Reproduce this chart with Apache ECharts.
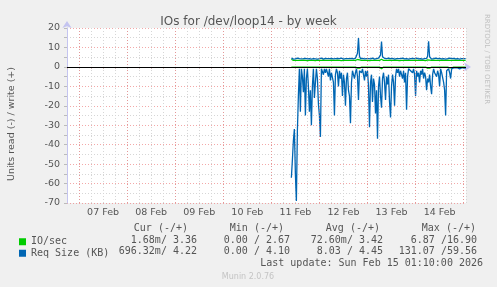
<!DOCTYPE html>
<html>
<head>
<meta charset="utf-8">
<script src="https://cdn.jsdelivr.net/npm/echarts@6/dist/echarts.min.js"></script>
<style>
html,body{margin:0;padding:0;background:#f0f0f0;}
#chart{width:497px;height:287px;}
</style>
</head>
<body>
<div id="chart"></div>
<script>
// ---- data (time in hours since 07 Feb 00:00, half-hour samples) ----
const dayLabels = ['07 Feb','08 Feb','09 Feb','10 Feb','11 Feb','12 Feb','13 Feb','14 Feb'];
const midnights = [0,24,48,72,96,120,144,168,192];
const startHour = 106;
const stepHours = 0.5;

const ioRead = [
 -0.1,-1,-0.1,-0.1,-0.1,-0.1,-0.1,-0.1,-0.1,-0.1,
 -0.1,-0.1,-0.1,-0.1,-0.1,-0.1,-0.1,-0.1,-0.1,-0.1,
 -0.1,-0.1,-0.1,-0.1,-0.1,-0.1,-0.1,-0.1,-0.1,-0.1,
 -0.1,-0.1,-0.1,-0.1,-0.1,-0.1,-0.1,-0.1,-0.1,-0.1,
 -0.1,-0.1,-0.1,-0.1,-0.1,-0.1,-0.1,-0.1,-0.1,-0.1,
 -0.1,-0.1,-0.1,-0.1,-0.1,-0.1,-0.1,-0.1,-0.1,-0.1,
 -0.1,-0.1,-0.1,-0.1,-0.1,-0.1,-0.6,-1,-0.6,-0.1,
 -0.1,-0.1,-0.1,-0.1,-0.1,-0.1,-0.1,-0.1,-0.1,-0.1,
 -0.1,-0.1,-0.1,-0.1,-0.1,-0.1,-0.1,-0.1,-0.1,-0.6,
 -1,-0.6,-0.1,-0.1,-0.1,-0.1,-0.1,-0.1,-0.1,-0.1,
 -0.1,-0.1,-0.1,-0.1,-0.1,-0.1,-0.1,-0.1,-0.1,-0.1,
 -0.1,-0.1,-0.1,-0.1,-0.1,-0.1,-0.1,-0.1,-0.1,-0.1,
 -0.1,-0.1,-0.1,-0.1,-0.1,-0.1,-0.1,-0.1,-0.1,-0.1,
 -0.1,-0.1,-0.1,-0.1,-0.1,-0.1,-0.6,-1,-0.6,-0.1,
 -0.1,-0.1,-0.1,-0.1,-0.1,-0.1,-0.1,-0.1,-0.1,-0.1,
 -0.1,-0.1,-0.1,-0.1,-0.1,-0.1,-0.1,-0.1,-0.5,-1,
 -0.5,-0.1,-0.1,-0.1,-0.1,-0.1,-0.1,-0.1,-0.1,-0.1,
 -0.1,-0.1,-0.1,-0.1,-0.1
];
const ioWrite = [
 3.9,3.5,3.3,3.4,3.3,3.5,3.4,3.2,3.3,3.4,
 3.3,3.4,3.5,3.3,3.4,3.3,3.2,3.4,3.3,3.5,
 3.4,3.3,3.4,3.3,3.2,3.4,3.5,3.3,3.4,3.3,
 3.4,3.3,3.5,3.4,3.3,3.4,3.3,3.2,3.4,3.3,
 3.5,3.4,3.3,3.4,3.3,3.4,3.5,3.3,3.4,3.3,
 3.2,3.4,3.3,3.5,3.4,3.3,3.4,3.3,3.4,3.5,
 3.3,3.4,3.3,3.2,3.4,3.5,3.8,4.0,3.6,3.4,
 3.3,3.4,3.3,3.5,3.4,3.3,3.4,3.3,3.2,3.4,
 3.3,3.5,3.4,3.3,3.4,3.3,3.4,3.5,3.3,3.6,
 3.9,3.5,3.3,3.4,3.3,3.2,3.4,3.3,3.5,3.4,
 3.3,3.4,3.3,3.4,3.5,3.3,3.4,3.3,3.2,3.4,
 3.3,3.5,3.4,3.3,3.4,3.3,3.4,3.5,3.3,3.4,
 3.3,3.2,3.4,3.3,3.5,3.4,3.3,3.4,3.3,3.4,
 3.5,3.3,3.4,3.3,3.2,3.4,3.6,3.9,3.5,3.3,
 3.4,3.3,3.5,3.4,3.3,3.4,3.3,3.2,3.4,3.3,
 3.5,3.4,3.3,3.4,3.3,3.4,3.5,3.3,3.4,3.6,
 3.4,3.3,3.4,3.3,3.5,3.4,3.3,3.4,3.3,3.4,
 3.3,3.4,3.3,3.4,3.36
];
const reqRead = [
 -57,-48,-38,-32,-55,-69,-33,-15,-1,-23,
 -1,-5,-13,-1,-25,-6,-1,-10,-23,-12,
 -30,-10,-1,-16,-8,-1,-6,-19,-25,-36,
 -1,-2,-4,-1,-3,-1,-2,-5,-1,-7,
 -3,-2,-8,-25,-4,-1,-3,-10,-2,-6,
 -3,-15,-4,-8,-20,-6,-3,-12,-15,-29,
 -8,-2,-1,-6,-3,-1,-5,-17,-2,-1,
 -3,-1,-4,-7,-2,-5,-2,-10,-31,-8,
 -4,-18,-6,-9,-24,-12,-37,-10,-5,-15,
 -21,-6,-3,-8,-17,-5,-9,-4,-18,-26,
 -10,-4,-8,-20,-5,-1,-3,-1,-5,-2,
 -4,-6,-2,-8,-3,-22,-5,-1,-1,-2,
 -1,-3,-1,-4,-15,-2,-5,-3,-8,-2,
 -4,-1,-6,-3,-5,-12,-6,-8,-4,-10,
 -14,-4,-1,-3,-2,-5,-2,-4,-10,-1,
 -3,-2,-8,-12,-25,-2,-1,-1,-3,-6,
 -1,-1,-0.5,-1,-0.5,-1,-0.5,-0.5,-1,-0.5,
 -0.5,-1,-0.5,-1,-0.7
];
const reqWrite = [
 4.6,4.2,4.0,4.4,4.1,4.3,4.5,4.0,4.2,4.4,
 4.1,4.5,4.2,4.0,4.4,4.3,4.1,4.5,4.2,4.3,
 4.0,4.4,4.2,4.5,4.1,4.3,4.0,4.4,4.2,4.1,
 4.5,4.3,4.0,4.2,4.4,4.1,4.3,4.5,4.2,4.0,
 4.4,4.2,4.1,4.5,4.3,4.0,4.4,4.2,4.3,4.1,
 4.5,4.2,4.0,4.4,4.3,4.1,4.2,4.5,4.3,4.0,
 4.4,4.2,4.1,4.3,4.5,4.2,7.0,14.8,5.5,4.3,
 4.0,4.4,4.2,4.1,4.5,4.3,4.0,4.2,4.4,4.1,
 4.3,4.5,4.2,4.0,4.4,4.3,4.1,4.5,4.2,6.0,
 13.0,5.2,4.2,4.4,4.1,4.3,4.0,4.5,4.2,4.3,
 4.1,4.4,4.2,4.0,4.5,4.3,4.1,4.2,4.4,4.3,
 4.0,4.5,4.2,4.1,4.4,4.3,4.2,4.0,4.5,4.3,
 4.1,4.4,4.2,4.3,4.0,4.5,4.2,4.1,4.4,4.3,
 4.2,4.0,4.5,4.3,4.1,4.4,5.5,13.2,5.2,4.3,
 4.0,4.4,4.2,4.1,4.5,4.3,4.2,4.0,4.4,4.3,
 4.1,4.5,4.2,4.3,4.0,4.4,4.2,4.1,4.5,4.3,
 4.2,4.0,4.4,4.3,4.1,4.5,4.2,4.3,4.0,4.4,
 4.2,4.1,4.3,4.4,4.22
];

const legendHeader = ['Cur (-/+)','Min (-/+)','Avg (-/+)','Max (-/+)'];
const ioStats = ['1.68m/ 3.36','0.00 / 2.67','72.60m/ 3.42','6.87 /16.90'];
const reqStats = ['696.32m/ 4.22','0.00 / 4.10','8.03 / 4.45','131.07 /59.56'];
const lastUpdate = 'Last update: Sun Feb 15 01:10:00 2026';

// ---- build ----
const toSeries = arr => arr.map((v, i) => [startHour + i * stepHours, v]);
const GREEN = '#00cc00', BLUE = '#0066b3';
const RED_GRID = 'rgba(235,110,110,0.6)', GREY_GRID = '#d6d6d6';
const AXIS = '#c4c4f0';
const MONO = '"DejaVu Sans Mono", monospace';
const SANS = '"DejaVu Sans", sans-serif';
const DOTS = [1, 2];

const chart = echarts.init(document.getElementById('chart'), null, {renderer: 'canvas'});

const headerRight = [188, 284, 380, 476];
const valueRight = [197, 290, 383, 477];
const txt = (x, y, t, font, fill, align, extra) => Object.assign({type:'text', x, y,
  style:{text:t, fill, font, textAlign:align, textVerticalAlign:'middle', align, verticalAlign:'middle'}}, extra || {});
const graphics = [];
legendHeader.forEach((t, k) => graphics.push(txt(headerRight[k], 228, t, '10px ' + MONO, '#555', 'right')));
ioStats.forEach((t, k) => graphics.push(txt(valueRight[k], 240, t, '10px ' + MONO, '#555', 'right')));
reqStats.forEach((t, k) => graphics.push(txt(valueRight[k], 251.5, t, '10px ' + MONO, '#555', 'right')));
graphics.push(txt(483, 263.5, lastUpdate, '10px ' + MONO, '#555', 'right'));
graphics.push(txt(248, 277, 'Munin 2.0.76', '8px ' + SANS, '#c4c4c4', 'center'));
graphics.push(txt(12, 124, 'Units read (-) / write (+)', '9.5px ' + SANS, '#555', 'center', {rotation: Math.PI/2}));
graphics.push(txt(487, 59, 'RRDTOOL / TOBI OETIKER', '7px ' + SANS, '#c0c0c0', 'center', {rotation: -Math.PI/2}));

const line = (name, arr, color, extra) => Object.assign({
  name, type:'line', data: toSeries(arr), showSymbol:false, symbol:'none',
  lineStyle:{color, width:1.3}, itemStyle:{color}, silent:true
}, extra || {});

chart.setOption({
  animation:false,
  backgroundColor:'#f0f0f0',
  title:{text:'IOs for /dev/loop14 - by week', left:'center', top:11,
    textStyle:{fontFamily:SANS, fontSize:12, fontWeight:'normal', color:'#555'}},
  grid:{left:67, right:31, top:28, bottom:84, show:true, backgroundColor:'#ffffff', borderWidth:0},
  legend:{data:['IO/sec','Req Size (KB)'], orient:'vertical', left:14, top:231,
    icon:'rect', itemWidth:7, itemHeight:7, itemGap:0, selectedMode:false,
    textStyle:{fontFamily:MONO, fontSize:10, color:'#555', lineHeight:11.5}},
  xAxis:{type:'value', min:-6, max:193.17, interval:6,
    axisLine:{show:true, lineStyle:{color:AXIS}, symbol:['none','arrow'], symbolSize:[7,7], symbolOffset:[0,5]},
    axisTick:{show:true, length:2, lineStyle:{color:'#d0b0b0'}},
    axisLabel:{interval:0, margin:5, color:'#555', fontFamily:SANS, fontSize:9.5, showMaxLabel:true,
      formatter: v => { const d = (v - 12) / 24; return Number.isInteger(d) && dayLabels[d] ? dayLabels[d] : ''; }},
    splitLine:{show:true, lineStyle:{color:GREY_GRID, type:DOTS, width:1}}
  },
  yAxis:{type:'value', min:-70, max:20, interval:10,
    axisLine:{show:true, onZero:false, lineStyle:{color:AXIS}, symbol:['none','arrow'], symbolSize:[7,7], symbolOffset:[0,7]},
    axisTick:{show:true, length:3, lineStyle:{color:'#bbb'}},
    minorTick:{show:true, splitNumber:2, length:3, lineStyle:{color:'#bbb'}},
    axisLabel:{margin:7, color:'#555', fontFamily:SANS, fontSize:9.5},
    splitLine:{show:true, lineStyle:{color:RED_GRID, type:DOTS, width:1}},
    minorSplitLine:{show:true, lineStyle:{color:GREY_GRID, type:DOTS, width:1}}
  },
  graphic: graphics,
  series:[
    line('IO/sec', ioRead, GREEN, {markLine:{silent:true, symbol:'none', label:{show:false},
      lineStyle:{color:RED_GRID, type:DOTS, width:1}, data: midnights.map(h => ({xAxis:h}))}}),
    line('IO/sec', ioWrite, GREEN, {markLine:{silent:true, symbol:'none', label:{show:false},
      lineStyle:{color:'#000', type:'solid', width:1}, data:[{yAxis:0}]}}),
    line('Req Size (KB)', reqRead, BLUE),
    line('Req Size (KB)', reqWrite, BLUE)
  ]
});
</script>
</body>
</html>
